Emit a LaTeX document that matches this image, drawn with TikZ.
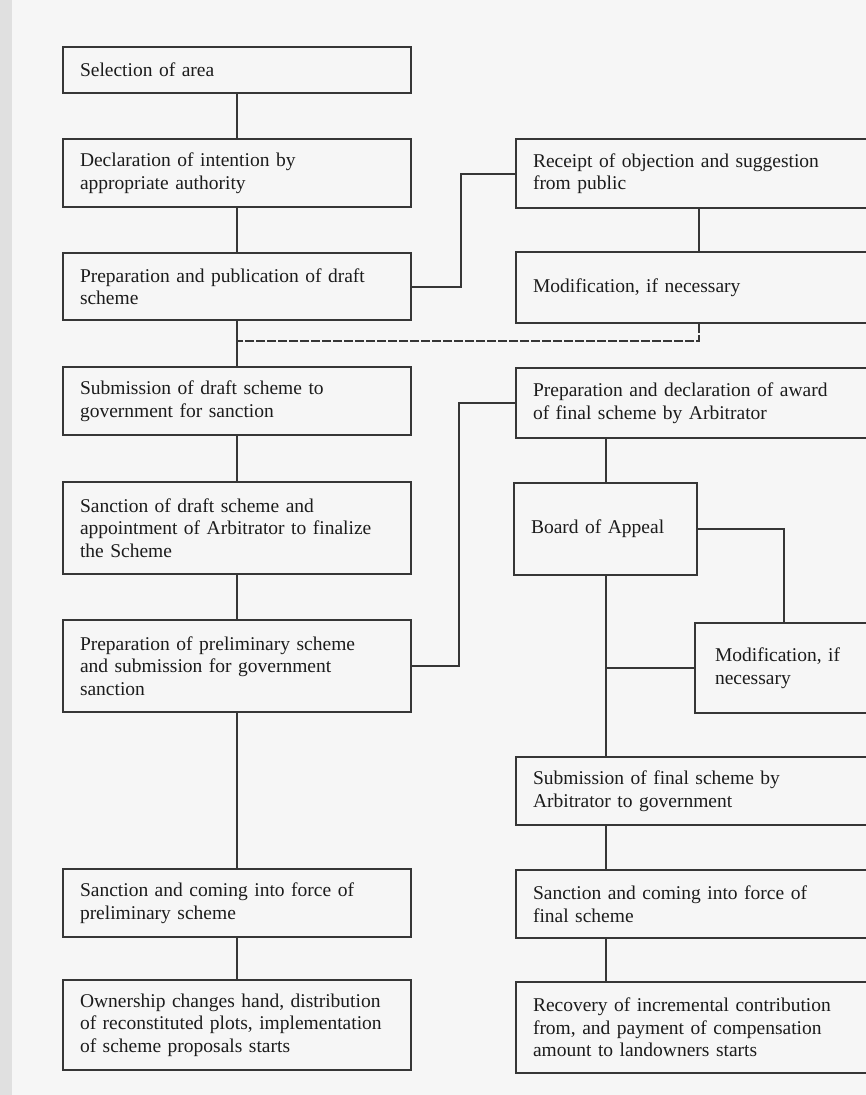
\documentclass[tikz,border=0pt]{standalone}
\usepackage{fontspec}
\setmainfont{Liberation Serif}
\definecolor{ink}{HTML}{1C1C1C}
\definecolor{rule}{HTML}{363636}
\definecolor{paper}{HTML}{F6F6F6}
\begin{document}
\begin{tikzpicture}[x=1pt, y=-1pt, line width=2pt,
  every node/.style={font=\fontsize{19.5}{22.5}\selectfont, text=ink},
  box/.style={draw=rule, rectangle, anchor=north west, align=left,
    inner xsep=17pt, inner ysep=0pt, text width=314pt},
  rbox/.style={box, text width=332pt}]
  % page
  \useasboundingbox (0,0) rectangle (866,1095);
  \fill[paper] (0,0) rectangle (866,1095);
  \fill[white!88!black] (0,0) rectangle (12,1095);
  \clip (0,0) rectangle (866,1095);

  % left column
  \node[box, minimum height=46pt] (sel) at (62,46) {Selection of area};
  \node[box, minimum height=68pt] (decl) at (62,138)
    {Declaration of intention by\\appropriate authority};
  \node[box, minimum height=67pt] (pub) at (62,252)
    {Preparation and publication of draft\\scheme};
  \node[box, minimum height=68pt] (subd) at (62,366)
    {Submission of draft scheme to\\government for sanction};
  \node[box, minimum height=92pt] (sand) at (62,481)
    {Sanction of draft scheme and\\appointment of Arbitrator to finalize\\the Scheme};
  \node[box, minimum height=92pt] (prel) at (62,619)
    {Preparation of preliminary scheme\\and submission for government\\sanction};
  \node[box, minimum height=68pt] (sanp) at (62,868)
    {Sanction and coming into force of\\preliminary scheme};
  \node[box, minimum height=90pt] (own) at (62,979)
    {Ownership changes hand, distribution\\of reconstituted plots, implementation\\of scheme proposals starts};

  % right column
  \node[rbox, minimum height=69pt] (rec) at (515,138)
    {Receipt of objection and suggestion\\from public};
  \node[rbox, minimum height=71pt] (mod) at (515,251)
    {Modification, if necessary};
  \node[rbox, minimum height=70pt] (award) at (515,367)
    {Preparation and declaration of award\\of final scheme by Arbitrator};
  \node[box, text width=149pt, minimum height=92pt] (board) at (513,482)
    {Board of Appeal};
  \node[box, inner xsep=20pt, text width=138pt, minimum height=90pt] (modb) at (694,622)
    {Modification, if\\necessary};
  \node[rbox, minimum height=68pt] (subf) at (515,756)
    {Submission of final scheme by\\Arbitrator to government};
  \node[rbox, minimum height=68pt] (sanf) at (515,869)
    {Sanction and coming into force of\\final scheme};
  \node[rbox, minimum height=91pt] (recov) at (515,981)
    {Recovery of incremental contribution\\from, and payment of compensation\\amount to landowners starts};

  % main line
  \draw[rule] (sel.south) -- (decl.north);
  \draw[rule] (decl.south) -- (pub.north);
  \draw[rule] (pub.south) -- (subd.north);
  \draw[rule] (subd.south) -- (sand.north);
  \draw[rule] (sand.south) -- (prel.north);
  \draw[rule] (prel.south) -- (sanp.north);
  \draw[rule] (sanp.south) -- (own.north);

  % objections
  \coordinate (j1) at (236,341);
  \draw[rule] (pub.east) -- ++(49,0) |- (rec.west);
  \draw[rule] (rec.south) -- (mod.north);
  \draw[rule, dash pattern=on 9pt off 2pt] (mod.south) |- (j1);

  % arbitrator
  \draw[rule] (prel.east) -- ++(47,0) |- (award.west);
  \draw[rule] (board.north |- award.south) -- (board.north);
  \draw[rule] (board.east) -| (modb.north);
  \draw[rule] (modb.west) -- (modb.west -| board.south);
  \draw[rule] (board.south) -- (board.south |- subf.north);
  \draw[rule] (board.south |- subf.south) -- (board.south |- sanf.north);
  \draw[rule] (board.south |- sanf.south) -- (board.south |- recov.north);
\end{tikzpicture}
\end{document}
